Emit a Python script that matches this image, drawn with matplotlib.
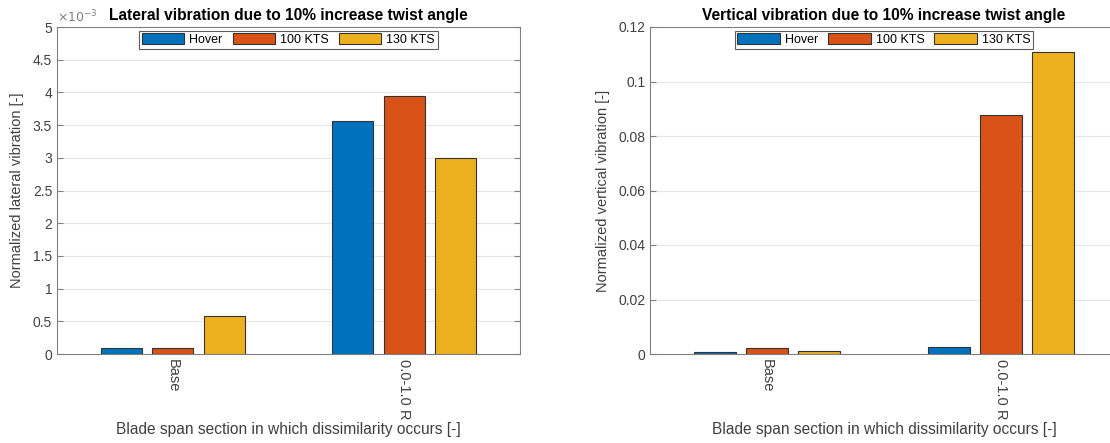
import numpy as np
import matplotlib
matplotlib.use("Agg")
import matplotlib.pyplot as plt
from matplotlib.ticker import FuncFormatter, MultipleLocator

plt.rcParams['font.family'] = ['Liberation Sans', 'DejaVu Sans']

# categories and series
sections = ['Base', '0.0-1.0 R']
speeds = ['Hover', '100 KTS', '130 KTS']
colors = ['#0072BD', '#D95319', '#EDB120']

# normalized lateral vibration
lateral_hover = [0.088e-3, 3.57e-3]
lateral_100 = [0.098e-3, 3.94e-3]
lateral_130 = [0.588e-3, 2.99e-3]

# normalized vertical vibration
vertical_hover = [0.0006, 0.0024]
vertical_100 = [0.0021, 0.0877]
vertical_130 = [0.0011, 0.1107]

text_col = '#404040'
spine_col = '#808080'


def grouped_bars(ax, series, title, ylabel, ylim, ystep, fmt):
    x = np.arange(1, len(sections) + 1)
    n = len(series)
    group_w = min(0.8, n / (n + 1.5))
    step = group_w / n
    handles = []
    for i, vals in enumerate(series):
        off = (i - (n - 1) / 2) * step
        h = ax.bar(x + off, vals, width=step * 0.8, color=colors[i],
                   edgecolor='#333333', linewidth=0.8, zorder=3, label=speeds[i])
        handles.append(h)

    ax.set_xlim(0.5, len(sections) + 0.5)
    ax.set_ylim(*ylim)
    ax.yaxis.set_major_locator(MultipleLocator(ystep))
    ax.yaxis.set_major_formatter(FuncFormatter(fmt))
    ax.set_xticks(x)
    ax.set_xticklabels(sections, rotation=270, fontsize=10.5)
    ax.tick_params(axis='both', direction='in', length=4, color=spine_col,
                   labelcolor=text_col, labelsize=10)
    ax.tick_params(axis='x', labelsize=10.5)
    ax.tick_params(axis='y', right=True)
    ax.grid(axis='y', color='#e6e6e6', linewidth=0.8, zorder=0)
    for s in ax.spines.values():
        s.set_color(spine_col)
        s.set_linewidth(0.8)

    ax.set_title(title, fontsize=11.2, fontweight='bold', pad=5)
    ax.set_ylabel(ylabel, fontsize=10.5, color=text_col, labelpad=6)
    ax.set_xlabel('Blade span section in which dissimilarity occurs [-]',
                  fontsize=11.2, color=text_col, labelpad=2)

    leg = ax.legend(handles=handles, loc='upper center', ncol=3,
                    bbox_to_anchor=(0.5, 1.0), fontsize=9, frameon=True,
                    fancybox=False, handlelength=3.4, handleheight=1.0,
                    handletextpad=0.4, columnspacing=0.8, borderpad=0.2,
                    borderaxespad=0.3)
    leg.get_frame().set_edgecolor('#333333')
    leg.get_frame().set_linewidth(0.8)
    return ax


fig = plt.figure(figsize=(11.1, 4.43), dpi=100)
ax1 = fig.add_axes([57 / 1110, 89 / 443, 463 / 1110, 327 / 443])
ax2 = fig.add_axes([650 / 1110, 89 / 443, 468 / 1110, 327 / 443])

grouped_bars(ax1, [lateral_hover, lateral_100, lateral_130],
             'Lateral vibration due to 10% increase twist angle',
             'Normalized lateral vibration [-]', (0, 5e-3), 0.5e-3,
             lambda v, p: f'{v * 1e3:g}')
ax1.text(0.0, 1.005, r'$\times10^{-3}$', transform=ax1.transAxes,
         fontsize=9, color=spine_col, ha='left', va='bottom')

grouped_bars(ax2, [vertical_hover, vertical_100, vertical_130],
             'Vertical vibration due to 10% increase twist angle',
             'Normalized vertical vibration [-]', (0, 0.12), 0.02,
             lambda v, p: f'{v:g}')

fig.savefig('out.png', dpi=100)
